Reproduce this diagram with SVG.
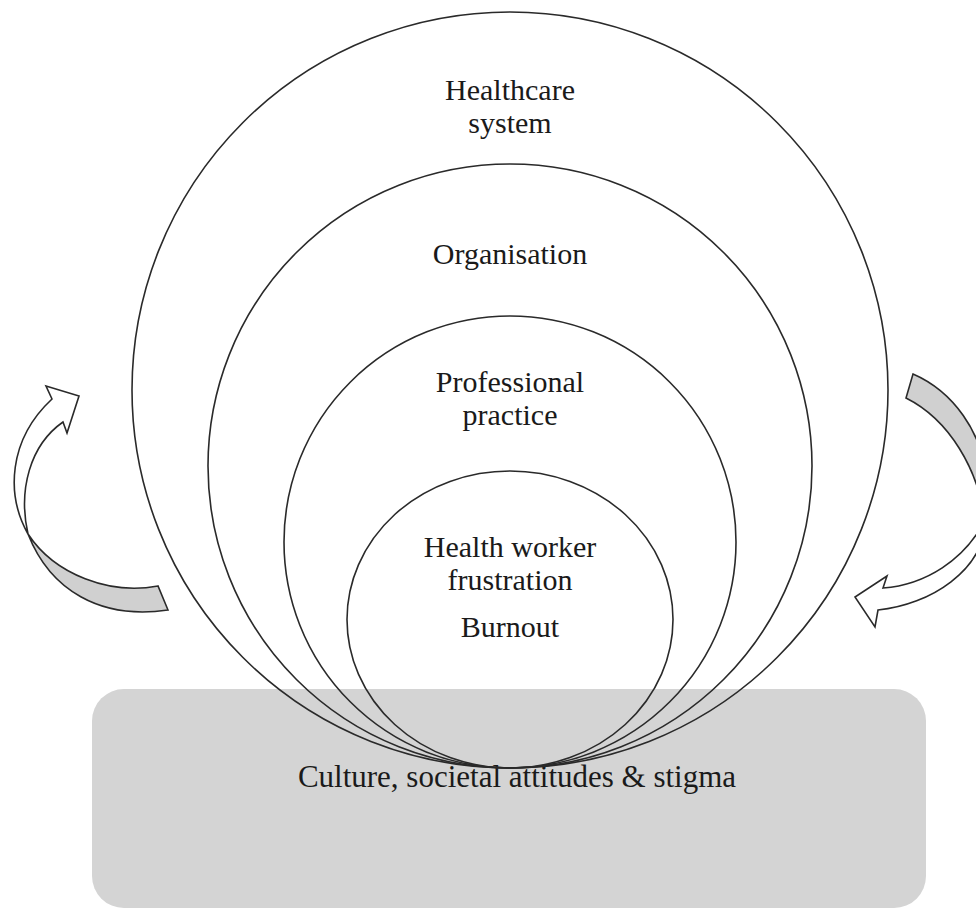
<svg xmlns="http://www.w3.org/2000/svg" width="976" height="910" viewBox="0 0 976 910">
<style>
.ring{fill:none;stroke:#2a2a2a;stroke-width:1.6}
.lbl{font-family:"Liberation Serif","Times New Roman",serif;font-size:30px;fill:#1a1a1a;text-anchor:middle}
.white{fill:#ffffff;stroke:#2a2a2a;stroke-width:1.6;stroke-linejoin:miter}
.grey{fill:#d0d0d0;stroke:#2a2a2a;stroke-width:1.6}
</style>
<rect width="976" height="910" fill="#ffffff"/>
<g id="culture">
<rect x="92" y="689" width="834" height="219" rx="32" ry="32" fill="#d4d4d4"/>
<text class="lbl" x="517" y="787" style="font-size:31px">Culture, societal attitudes &amp; stigma</text>
</g>
<g id="healthcare-system">
<circle class="ring" cx="510" cy="390" r="378"/>
<text class="lbl" x="510" y="100">Healthcare</text>
<text class="lbl" x="510" y="133">system</text>
</g>
<g id="organisation">
<circle class="ring" cx="510" cy="466" r="302"/>
<text class="lbl" x="510" y="264">Organisation</text>
</g>
<g id="professional-practice">
<circle class="ring" cx="510" cy="542" r="226"/>
<text class="lbl" x="510" y="392">Professional</text>
<text class="lbl" x="510" y="425">practice</text>
</g>
<g id="health-worker">
<ellipse class="ring" cx="510" cy="619.5" rx="163" ry="148.5"/>
<text class="lbl" x="510" y="557">Health worker</text>
<text class="lbl" x="510" y="590">frustration</text>
<text class="lbl" x="510" y="637">Burnout</text>
</g>
<g id="connectors">
<g id="arrow-left">
<path class="grey" d="M28,534 C50,590 100,620 168,610 L158,586 C110,595 55,575 28,534 Z"/>
<path class="white" d="M28,534 C6,495 8,440 52,399 L46,386 L79,396 L67,433 L63,422 C30,445 18,490 28,534 Z"/>
</g>
<g id="arrow-right">
<path class="grey" d="M913,374 C950,390 985,430 988,490 L985,520 C978,470 950,420 906,398 Z"/>
<path class="white" d="M985,520 C985,570 930,605 878,610 L875,627 L855,597 L887,576 L883,588 C925,585 965,560 985,520 Z"/>
</g>
</g>
</svg>
